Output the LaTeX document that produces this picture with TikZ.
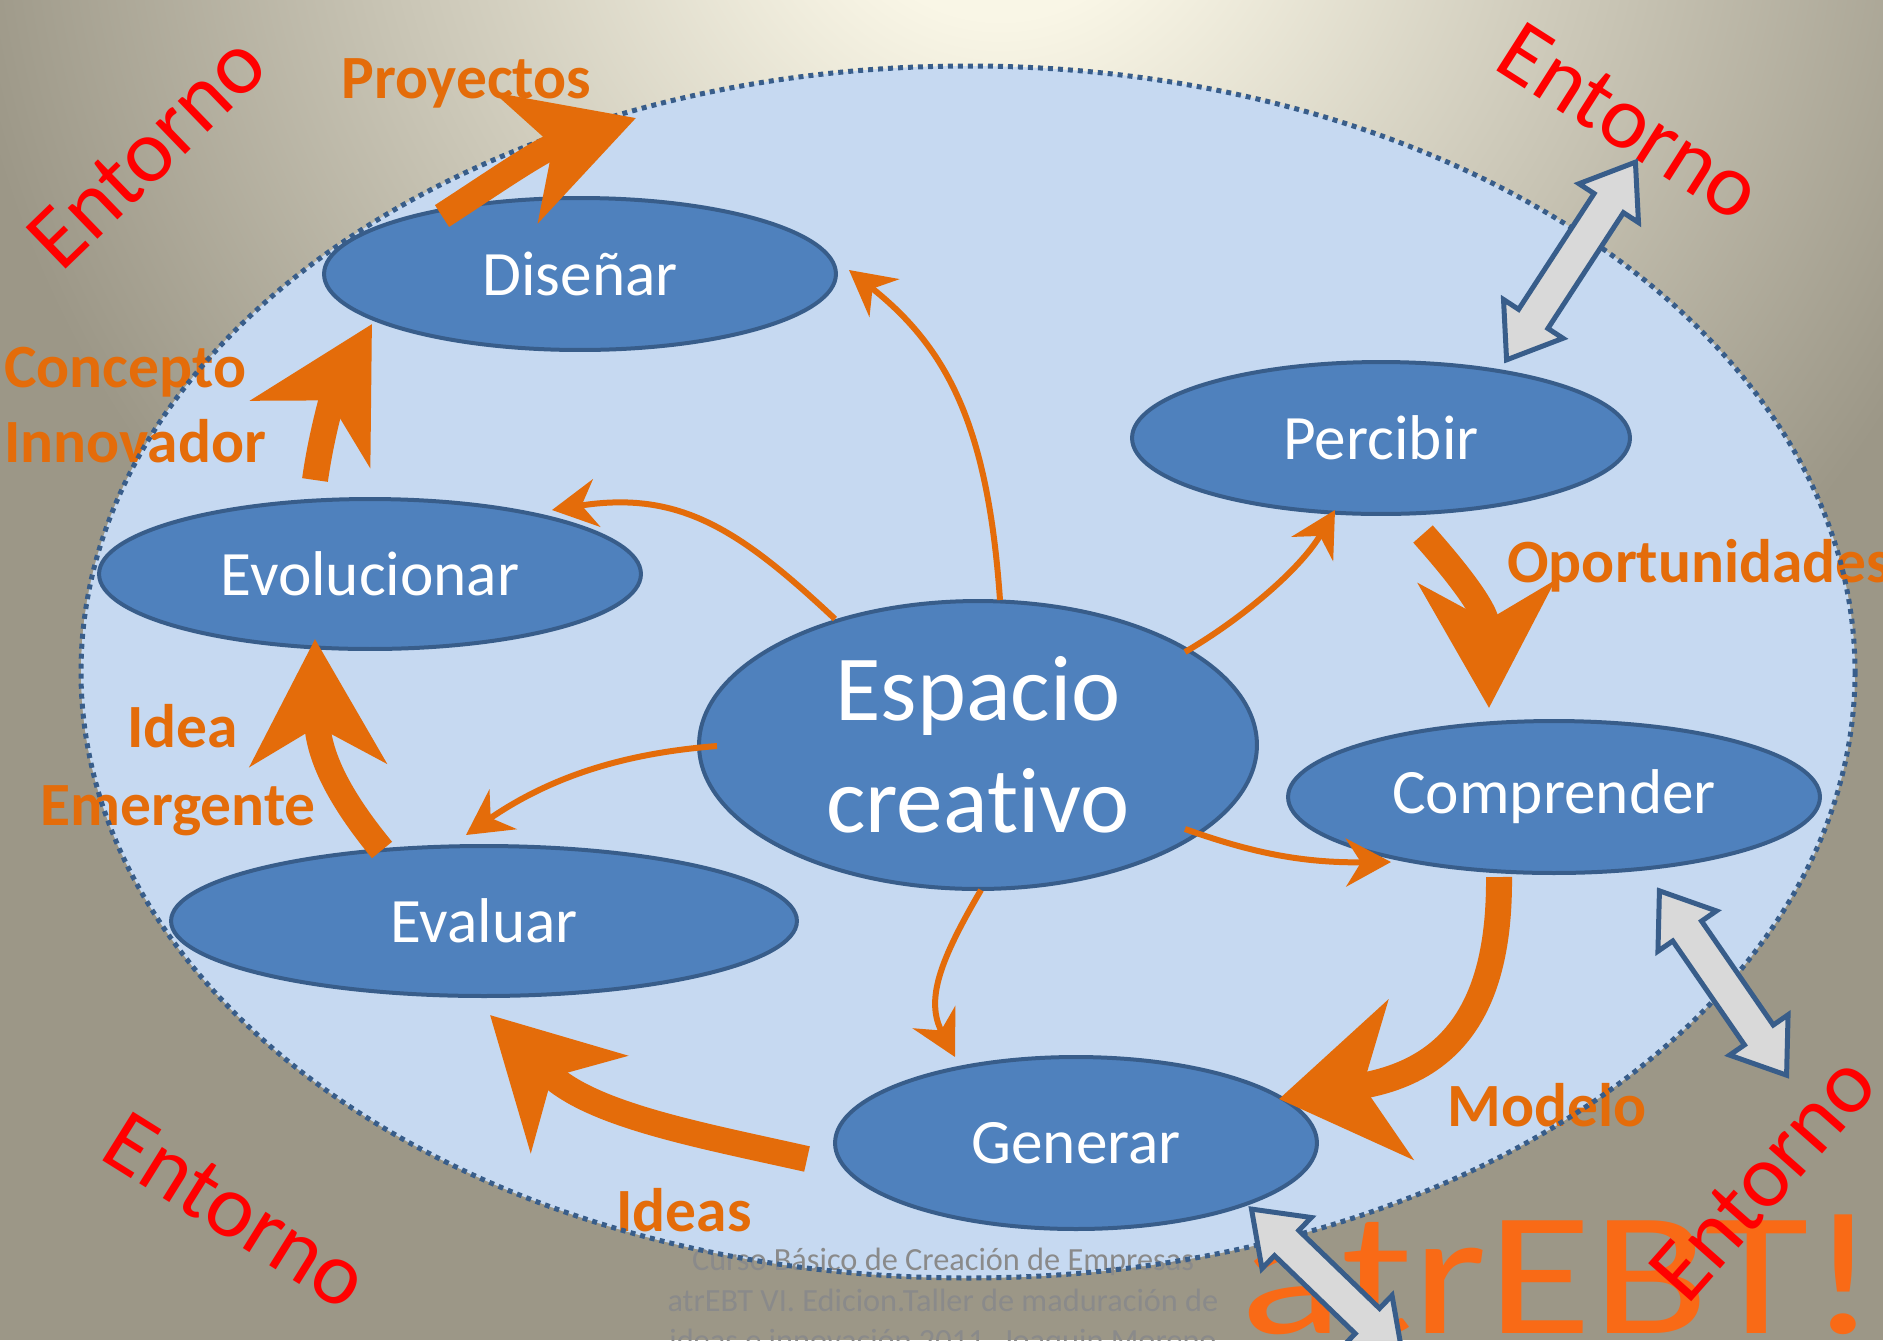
\documentclass[tikz,border=0pt]{standalone}
\usepackage{fontspec}
\setmainfont{Carlito}[Ligatures=NoCommon]
\usetikzlibrary{shapes.geometric,shapes.arrows,arrows.meta,calc}

\definecolor{bgin}{HTML}{F9F6E6}
\definecolor{bgout}{HTML}{9C9787}
\definecolor{spacefill}{HTML}{C6D9F1}
\definecolor{spaceline}{HTML}{385D8A}
\definecolor{stepfill}{HTML}{4F81BD}
\definecolor{stepline}{HTML}{385D8A}
\definecolor{flow}{HTML}{E46C0A}
\definecolor{envgray}{HTML}{D9D9D9}
\definecolor{footgray}{HTML}{8A8A8A}
\definecolor{logo}{HTML}{F96A16}

\pgfdeclareradialshading{envshade}{\pgfpoint{0bp}{0bp}}{color(0bp)=(bgin); color(4bp)=(bgin); color(25bp)=(bgout); color(50bp)=(bgout)}

\tikzset{
  phase/.style={ellipse, draw=stepline, line width=0.08cm, fill=stepfill, text=white,
    inner sep=0pt, font=\fontsize{36}{43}\selectfont},
  bigflow/.style={draw=flow, line width=0.52cm, -{Stealth[length=2.5cm, width=2.7cm, inset=0.75cm]}},
  thinflow/.style={draw=flow, line width=0.12cm, -{Stealth[length=0.9cm, width=0.96cm, inset=0.3cm]}},
  flowlabel/.style={text=flow, font=\bfseries\fontsize{35}{42}\selectfont, anchor=base west, inner sep=0pt},
  entorno/.style={text=red, font=\fontsize{51}{60}\selectfont, inner sep=0pt},
  exchange/.style={double arrow, draw=stepline, line width=0.1cm, fill=envgray, inner xsep=0pt,
    inner ysep=0.3cm, double arrow head extend=0.36cm, double arrow tip angle=72},
  footer/.style={text=footgray, font=\fontsize{18.4}{22}\selectfont, anchor=base, inner sep=0pt}
}

\begin{document}
\begin{tikzpicture}[x=0.02cm, y=-0.02cm]
    \useasboundingbox (0,0) rectangle (1883,1340);
    \clip (0,0) rectangle (1883,1340);
    \fill[bgout] (0,0) rectangle (1883,1340);
    \shade[shading=envshade] (1000,-150) circle [radius=1050];

    \node[text=logo, font=\fontsize{100}{100}\selectfont, anchor=base west, inner sep=0pt, xscale=1.22] (logo) at (1240,1333) {atrEBT!};

    \fill[spacefill] (968,672) ellipse [x radius=887, y radius=606];

    \node[footer] (foot1) at (943,1270) {Curso Básico de Creación de Empresas};
    \node[footer] (foot2) at (943,1311) {atrEBT VI. Edicion.Taller de maduración de};
    \node[footer] (foot3) at (943,1351) {ideas e innovación 2011. Joaquin Moreno};

    \node[flowlabel] (lproy) at (341,98) {Proyectos};
    \node[flowlabel] (lconc) at (4,387) {Concepto};
    \node[flowlabel] (linno) at (4,462) {Innovador};
    \node[flowlabel] (lopor) at (1507,582) {Oportunidades};
    \node[flowlabel] (lidea) at (127,747) {Idea};
    \node[flowlabel] (lemer) at (40,825) {Emergente};
    \node[flowlabel] (lmod) at (1447,1126) {Modelo};
    \node[flowlabel] (lideas) at (616,1231) {Ideas};

    \draw[spaceline, line width=0.1cm, dash pattern=on 0.1cm off 0.1cm] (968,672) ellipse [x radius=887, y radius=606];

    \node[entorno, rotate=44] (envnw) at (147,152) {Entorno};
    \node[entorno, rotate=-32.5] (envne) at (1630,122) {Entorno};
    \node[entorno, rotate=-32] (envsw) at (236,1211) {Entorno};
    \node[entorno, rotate=48.5] (envse) at (1763,1178) {Entorno};

    \node[phase, minimum width=10.24cm, minimum height=3.04cm] (dis) at (580,274) {Diseñar};
    \node[phase, minimum width=9.96cm, minimum height=3.04cm] (per) at (1381,438) {Percibir};
    \node[phase, minimum width=10.84cm, minimum height=3cm] (evo) at (370,574) {Evolucionar};
    \node[phase, minimum width=11.16cm, minimum height=5.76cm, align=center,
        font=\fontsize{53}{64}\selectfont] (esp) at (978,745) {Espacio\\creativo};
    \node[phase, minimum width=10.64cm, minimum height=3.04cm] (com) at (1554,797) {Comprender};
    \node[phase, minimum width=12.52cm, minimum height=3cm] (eva) at (484,921) {Evaluar};
    \node[phase, minimum width=9.64cm, minimum height=3.44cm] (gen) at (1076,1143) {Generar};

    \draw[thinflow] ($(esp)+(22,-145)$) .. controls (988,430) and (950,350) .. ($(dis)+(269,-4)$);
    \draw[thinflow] ($(esp)+(-143,-126)$) .. controls (740,530) and (680,490) .. ($(evo)+(182,-64)$);
    \draw[thinflow] ($(esp)+(207,-93)$) .. controls (1240,620) and (1300,570) .. ($(per)+(-46,72)$);
    \draw[thinflow] ($(esp)+(-261,1)$) .. controls (640,752) and (560,770) .. ($(eva)+(-18,-86)$);
    \draw[thinflow] ($(esp)+(207,84)$) .. controls (1250,852) and (1300,863) .. ($(com)+(-163,65)$);
    \draw[thinflow] ($(esp)+(3,145)$) .. controls (940,960) and (925,1000) .. ($(gen)+(-121,-86)$);

    \coordinate (proy) at (636,118);
    \draw[bigflow] ($(dis)+(-138,-58)$) .. controls (490,185) and (540,150) .. (proy);
    \draw[bigflow] ($(evo)+(-55,-94)$) .. controls (322,430) and (335,390) .. ($(dis)+(-208,50)$);
    \draw[bigflow] ($(per)+(42,96)$) .. controls (1455,570) and (1487,610) .. ($(com)+(-65,-89)$);
    \draw[bigflow] ($(eva)+(-102,-71)$) .. controls (345,805) and (318,760) .. ($(evo)+(-55,65)$);
    \draw[bigflow, -{Stealth[length=2.45cm, width=3.2cm, inset=0.75cm]}] ($(com)+(-55,80)$) .. controls (1500,1010) and (1450,1072) .. ($(gen)+(203,-44)$);
    \draw[bigflow] ($(gen)+(-269,16)$) .. controls (700,1135) and (590,1115) .. ($(eva)+(6,94)$);

    \node[exchange, rotate=56.9, minimum height=4.72cm] (xper) at (1571,261) {};
    \node[exchange, rotate=-55.4, minimum height=4.48cm] (xcom) at (1723,983) {};
    \node[exchange, rotate=-44, minimum height=4.2cm] (xgen) at (1327,1282) {};
\end{tikzpicture}
\end{document}
